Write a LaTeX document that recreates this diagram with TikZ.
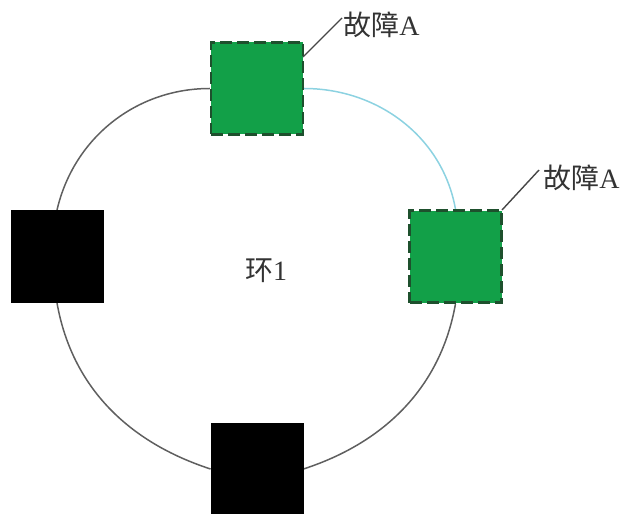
\documentclass[tikz,border=0pt]{standalone}
\usepackage{fontspec}
\usetikzlibrary{backgrounds}
\setmainfont{Liberation Serif}
\newfontfamily\cjk{Noto Sans CJK SC}
\definecolor{fgreen}{RGB}{18,160,72}
\definecolor{fdark}{RGB}{30,80,45}
\definecolor{ringgray}{RGB}{95,95,95}
\definecolor{ringblue}{RGB}{140,210,225}
\definecolor{leadgray}{RGB}{70,70,70}
\tikzset{
  dev/.style={rectangle, minimum width=46pt, minimum height=46pt, inner sep=0pt},
  faultdev/.style={dev, fill=fgreen, draw=fdark, line width=1.2pt, dash pattern=on 6pt off 2.5pt},
  okdev/.style={dev, fill=black, draw=black},
  ring/.style={draw=ringgray, line width=0.75pt},
  ringb/.style={draw=ringblue, line width=0.75pt},
  leader/.style={draw=leadgray, line width=0.7pt},
  lbl/.style={font=\fontsize{14pt}{16pt}\selectfont, text=black!80, inner sep=0pt}
}
\begin{document}
\begin{tikzpicture}[x=0.5pt, y=-0.5pt]
\clip (0,0) rectangle (624,513);
\node[faultdev] (T) at (257,88.5) {};
\node[faultdev] (R) at (455.5,256.5) {};
\node[okdev] (L) at (57,256.5) {};
\node[okdev] (B) at (257,469) {};
\begin{scope}[on background layer]
\draw[ring] (L.north) to[out=77, in=180, looseness=0.97] (T.west);
\draw[ringb] (T.east) to[out=0, in=100, looseness=0.97] (R.north);
\draw[ring] (R.south) to[out=-100, in=18, looseness=0.97] (B.east);
\draw[ring] (L.south) to[out=-80, in=162, looseness=0.97] (B.west);
\end{scope}
\node[lbl, anchor=west] (la1) at (343,25) {{\cjk 故障}A};
\node[lbl, anchor=west] (la2) at (543,178) {{\cjk 故障}A};
\node[lbl] (ring1) at (266,271) {{\cjk 环}1};
\coordinate (p1) at (303,57);
\coordinate (q1) at (342,18);
\coordinate (p2) at (502,210);
\coordinate (q2) at (539,170);
\draw[leader] (p1) -- (q1);
\draw[leader] (p2) -- (q2);
\end{tikzpicture}
\end{document}
